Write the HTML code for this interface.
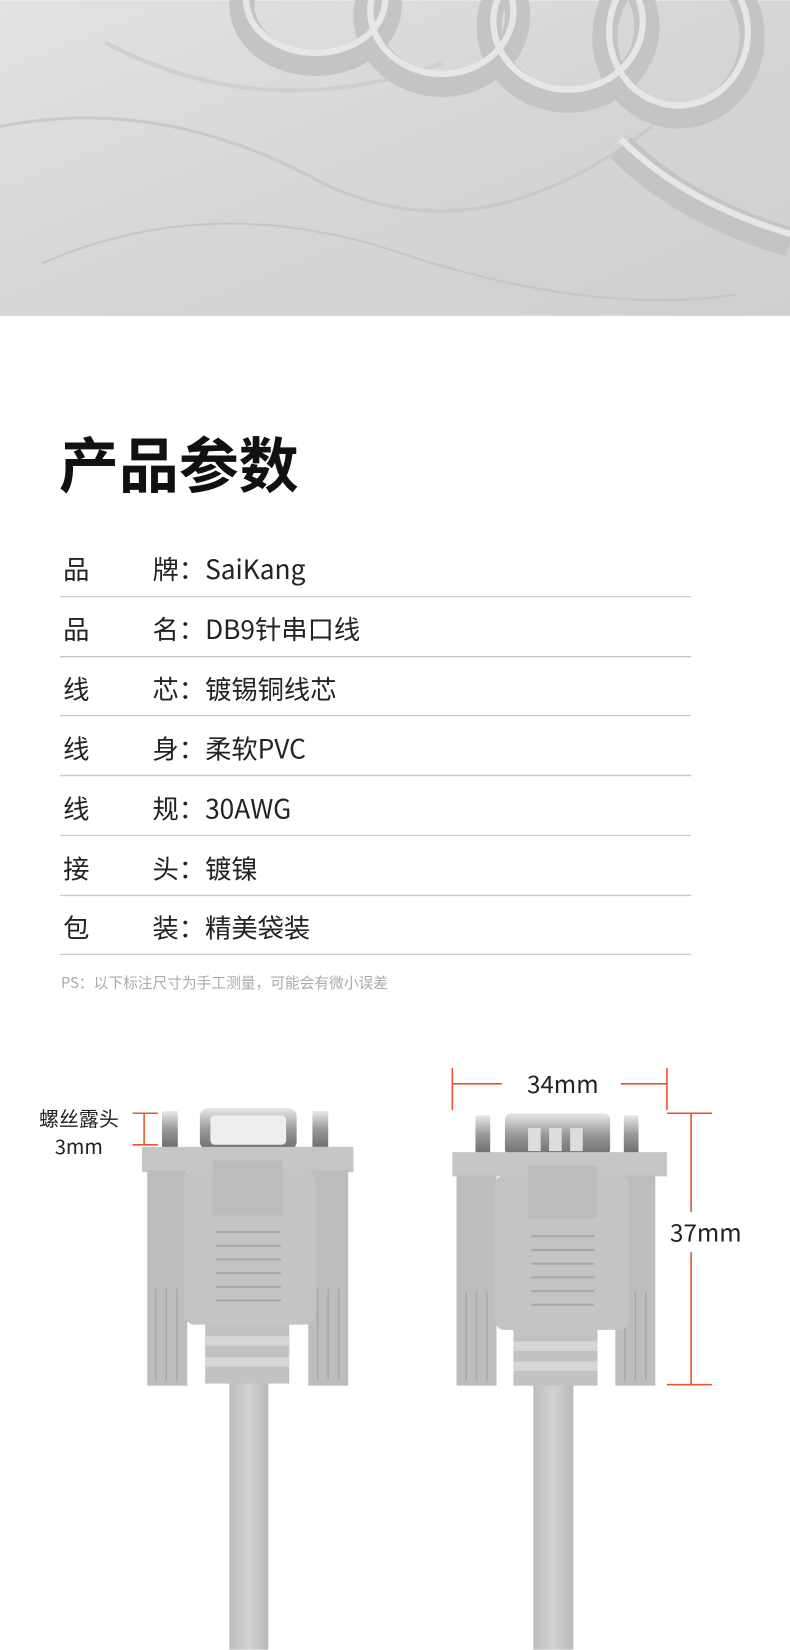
<!DOCTYPE html>
<html><head><meta charset="utf-8"><style>
html,body{margin:0;padding:0;background:#fff}
svg{display:block}
text{font-family:"Noto Sans CJK SC","Liberation Sans",sans-serif}
</style></head><body>
<svg width="790" height="1650" viewBox="0 0 751 1568" xmlns="http://www.w3.org/2000/svg">
<defs>
<linearGradient id="bg" x1="0" y1="0" x2="1" y2="1">
<stop offset="0" stop-color="#e2e2e2"/><stop offset="0.5" stop-color="#d6d6d6"/><stop offset="1" stop-color="#cfcfcf"/>
</linearGradient>
<linearGradient id="cab" x1="0" x2="1">
<stop offset="0" stop-color="#bdbdbd"/><stop offset="0.5" stop-color="#d2d2d2"/><stop offset="1" stop-color="#b8b8b8"/>
</linearGradient>
<linearGradient id="met" x1="0" x2="0" y1="0" y2="1">
<stop offset="0" stop-color="#e8e8e8"/><stop offset="0.5" stop-color="#9a9a9a"/><stop offset="1" stop-color="#6e6e6e"/>
</linearGradient>
</defs>
<!-- photo -->
<rect x="0" y="0" width="751" height="300" fill="url(#bg)"/>
<path d="M0 120 Q150 90 300 170 T620 120" stroke="#c9c9c9" stroke-width="3" fill="none"/>
<path d="M40 250 Q200 180 380 240 T700 280" stroke="#c6c6c6" stroke-width="2" fill="none"/>
<path d="M100 40 Q250 120 420 60" stroke="#cfcfcf" stroke-width="4" fill="none"/>
<g fill="none" stroke="#c4c4c4" stroke-width="24">
<ellipse cx="300" cy="5" rx="70" ry="55"/>
<ellipse cx="420" cy="15" rx="72" ry="65"/>
<ellipse cx="540" cy="25" rx="75" ry="70"/>
<ellipse cx="645" cy="35" rx="70" ry="75"/>
</g>
<g fill="none" stroke="#e6e6e6" stroke-width="6">
<ellipse cx="300" cy="0" rx="66" ry="50"/>
<ellipse cx="420" cy="10" rx="68" ry="60"/>
<ellipse cx="540" cy="20" rx="71" ry="65"/>
<ellipse cx="645" cy="30" rx="66" ry="70"/>
</g>
<path d="M590 140 Q650 200 751 230" stroke="#c4c4c4" stroke-width="28" fill="none"/>
<path d="M590 132 Q650 192 751 222" stroke="#e6e6e6" stroke-width="6" fill="none"/>

<!-- title -->
<text x="56" y="463" font-size="57" font-weight="bold" fill="#111">产品参数</text>
<g font-size="25" fill="#222">
<text x="60" y="550">品</text><text x="145" y="550">牌：SaiKang</text>
<text x="60" y="607">品</text><text x="145" y="607">名：DB9针串口线</text>
<text x="60" y="664">线</text><text x="145" y="664">芯：镀锡铜线芯</text>
<text x="60" y="721">线</text><text x="145" y="721">身：柔软PVC</text>
<text x="60" y="778">线</text><text x="145" y="778">规：30AWG</text>
<text x="60" y="835">接</text><text x="145" y="835">头：镀镍</text>
<text x="60" y="891">包</text><text x="145" y="891">装：精美袋装</text>
</g>
<g stroke="#c8c8c8" stroke-width="1.2">
<line x1="57" y1="567" x2="657" y2="567"/><line x1="57" y1="624" x2="657" y2="624"/>
<line x1="57" y1="680" x2="657" y2="680"/><line x1="57" y1="737" x2="657" y2="737"/>
<line x1="57" y1="794" x2="657" y2="794"/><line x1="57" y1="851" x2="657" y2="851"/>
<line x1="57" y1="907" x2="657" y2="907"/>
</g>
<text x="58" y="939" font-size="14" fill="#aaa">PS：以下标注尺寸为手工测量，可能会有微小误差</text>

<!-- female connector -->
<g>
<rect x="218" y="1300" width="37" height="268" fill="url(#cab)"/>
<rect x="154" y="1056" width="15" height="34" fill="url(#met)"/>
<rect x="297" y="1056" width="15" height="34" fill="url(#met)"/>
<rect x="190" y="1053" width="92" height="40" rx="8" fill="url(#met)"/>
<rect x="200" y="1060" width="72" height="28" rx="4" fill="#eee"/>
<rect x="135" y="1090" width="201" height="24" fill="#c6c6c6"/>
<rect x="140" y="1112" width="38" height="205" fill="#bdbdbd"/>
<rect x="293" y="1112" width="38" height="205" fill="#bdbdbd"/>
<g stroke="#a8a8a8" stroke-width="1.5">
<line x1="148" y1="1225" x2="148" y2="1312"/><line x1="158" y1="1225" x2="158" y2="1312"/><line x1="168" y1="1225" x2="168" y2="1312"/>
<line x1="302" y1="1225" x2="302" y2="1312"/><line x1="312" y1="1225" x2="312" y2="1312"/><line x1="322" y1="1225" x2="322" y2="1312"/>
</g>
<rect x="195" y="1255" width="80" height="60" fill="#c2c2c2"/>
<g fill="#d6d6d6"><rect x="195" y="1270" width="80" height="9"/><rect x="195" y="1290" width="80" height="9"/></g>
<rect x="175" y="1112" width="125" height="147" rx="10" fill="#c4c4c4"/>
<rect x="202" y="1103" width="67" height="52" fill="#bcbcbc"/>
<g stroke="#a9a9a9" stroke-width="2">
<line x1="205" y1="1171" x2="267" y2="1171"/><line x1="205" y1="1184" x2="267" y2="1184"/><line x1="205" y1="1197" x2="267" y2="1197"/>
<line x1="205" y1="1210" x2="267" y2="1210"/><line x1="205" y1="1223" x2="267" y2="1223"/><line x1="205" y1="1236" x2="267" y2="1236"/>
</g>
</g>
<!-- male connector -->
<g>
<rect x="507" y="1300" width="38" height="268" fill="url(#cab)"/>
<rect x="452" y="1060" width="14" height="36" fill="url(#met)"/>
<rect x="593" y="1060" width="14" height="36" fill="url(#met)"/>
<rect x="480" y="1058" width="100" height="40" rx="6" fill="url(#met)"/>
<g fill="#ddd"><rect x="502" y="1072" width="12" height="22"/><rect x="522" y="1072" width="12" height="22"/><rect x="542" y="1072" width="12" height="22"/></g>
<rect x="430" y="1095" width="204" height="23" fill="#c6c6c6"/>
<rect x="434" y="1117" width="38" height="200" fill="#bdbdbd"/>
<rect x="585" y="1117" width="38" height="200" fill="#bdbdbd"/>
<g stroke="#a8a8a8" stroke-width="1.5">
<line x1="443" y1="1228" x2="443" y2="1312"/><line x1="453" y1="1228" x2="453" y2="1312"/><line x1="463" y1="1228" x2="463" y2="1312"/>
<line x1="594" y1="1228" x2="594" y2="1312"/><line x1="604" y1="1228" x2="604" y2="1312"/><line x1="614" y1="1228" x2="614" y2="1312"/>
</g>
<rect x="488" y="1260" width="80" height="57" fill="#c2c2c2"/>
<g fill="#d6d6d6"><rect x="488" y="1275" width="80" height="9"/><rect x="488" y="1294" width="80" height="9"/></g>
<rect x="470" y="1117" width="128" height="147" rx="10" fill="#c4c4c4"/>
<rect x="502" y="1108" width="66" height="50" fill="#bcbcbc"/>
<g stroke="#a9a9a9" stroke-width="2">
<line x1="505" y1="1175" x2="565" y2="1175"/><line x1="505" y1="1188" x2="565" y2="1188"/><line x1="505" y1="1201" x2="565" y2="1201"/>
<line x1="505" y1="1214" x2="565" y2="1214"/><line x1="505" y1="1227" x2="565" y2="1227"/><line x1="505" y1="1240" x2="565" y2="1240"/>
</g>
</g>
<!-- dimensions -->
<g stroke="#e8532b" stroke-width="1.5">
<line x1="430" y1="1015" x2="430" y2="1055"/><line x1="634" y1="1015" x2="634" y2="1055"/>
<line x1="430" y1="1030" x2="477" y2="1030"/><line x1="590" y1="1030" x2="634" y2="1030"/>
<line x1="634" y1="1058" x2="677" y2="1058"/><line x1="634" y1="1316" x2="677" y2="1316"/>
<line x1="657" y1="1058" x2="657" y2="1152"/><line x1="657" y1="1190" x2="657" y2="1316"/>
<line x1="126" y1="1058" x2="150" y2="1058"/><line x1="126" y1="1088" x2="150" y2="1088"/>
<line x1="137" y1="1058" x2="137" y2="1088"/>
</g>
<g fill="#222">
<text x="535" y="1039" font-size="23" text-anchor="middle">34mm</text>
<text x="671" y="1180" font-size="23" text-anchor="middle">37mm</text>
<text x="75" y="1070" font-size="19" text-anchor="middle">螺丝露头</text>
<text x="75" y="1097" font-size="19" text-anchor="middle">3mm</text>
</g>
</svg>
</body></html>
